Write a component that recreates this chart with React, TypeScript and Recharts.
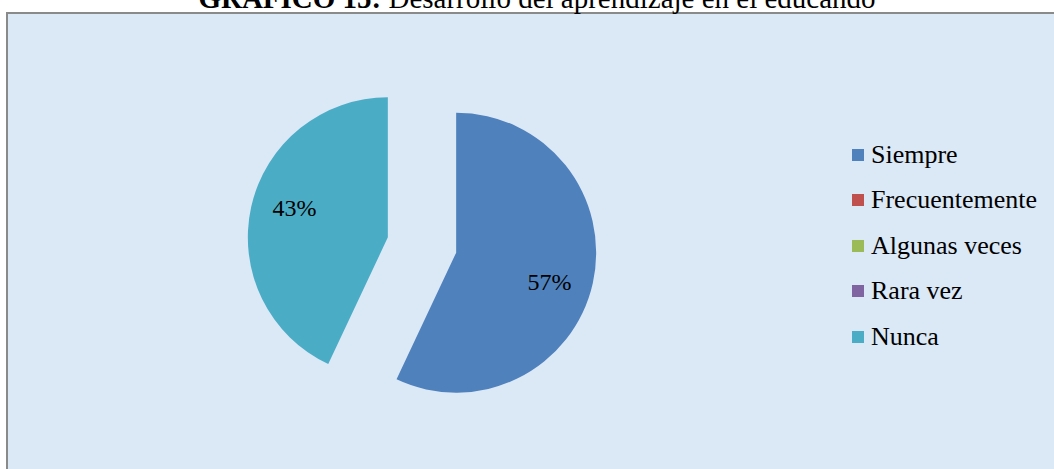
import { PieChart, Pie, Cell, Legend } from 'recharts';

const categories = ['Siempre', 'Frecuentemente', 'Algunas veces', 'Rara vez', 'Nunca'];
const values = [57, 0, 0, 0, 43];
const colors = ['#4f81bd', '#c0504d', '#9bbb59', '#8064a2', '#4bacc6'];

const data = categories.map((name, i) => ({ name, value: values[i] }));
const total = values.reduce((a, b) => a + b, 0);

const SERIF = '"Liberation Serif", Tinos, "Times New Roman", "DejaVu Serif", serif';
const CX = 422;
const CY = 245;
const R = 140;
const EXPLODE = 35;
const RAD = Math.PI / 180;

// mid angle (recharts degrees) of each slice, clockwise from 12 o'clock
const midAngles = values.map((v, i) => {
    const before = values.slice(0, i).reduce((a, b) => a + b, 0);
    return 90 - (360 * (before + v / 2)) / total;
});

function LegendContent() {
    return (
        <div style={{ fontFamily: SERIF, fontSize: 26, color: '#000' }}>
            {categories.map((c, i) => (
                <div key={c} style={{ display: 'flex', alignItems: 'center', height: 45.5 }}>
                    <span style={{ width: 12, height: 12, background: colors[i], marginRight: 7, display: 'inline-block' }} />
                    <span>{c}</span>
                </div>
            ))}
        </div>
    );
}

export default function App() {
    return (
        <div style={{ position: 'absolute', left: 0, top: 0, width: 1054, height: 469, overflow: 'hidden', background: '#fff' }}>
            <div
                style={{
                    position: 'absolute',
                    left: 6,
                    top: 12,
                    width: 1060,
                    height: 470,
                    background: '#dbe8f6',
                    borderLeft: '2px solid #8a8a8a',
                    borderTop: '2px solid #8a8a8a',
                    boxSizing: 'border-box',
                }}
            />
            <svg width={1054} height={30} style={{ position: 'absolute', left: 0, top: 0 }}>
                <text x={537} y={8} textAnchor="middle" fontFamily={SERIF} fontSize={29} fill="#000">
                    <tspan fontWeight="bold">GRÁFICO 15:</tspan>
                    <tspan> Desarrollo del aprendizaje en el educando</tspan>
                </text>
            </svg>
            <div style={{ position: 'absolute', left: 0, top: 0 }}>
                <PieChart width={1054} height={469} margin={{ top: 0, right: 0, bottom: 0, left: 0 }}>
                    {values.map((v, j) =>
                        v > 0 ? (
                            <Pie
                                key={categories[j]}
                                data={data}
                                dataKey="value"
                                nameKey="name"
                                cx={CX + EXPLODE * Math.cos(midAngles[j] * RAD)}
                                cy={CY - EXPLODE * Math.sin(midAngles[j] * RAD)}
                                outerRadius={R}
                                startAngle={90}
                                endAngle={-270}
                                stroke="none"
                                labelLine={false}
                                isAnimationActive={false}
                                label={(p: any) => {
                                    if (p.index !== j) return null;
                                    const x = p.cx + R * 0.7 * Math.cos((p.midAngle - 5) * RAD);
                                    const y = p.cy - R * 0.7 * Math.sin((p.midAngle - 5) * RAD);
                                    return (
                                        <text
                                            x={x}
                                            y={y}
                                            textAnchor="middle"
                                            dominantBaseline="central"
                                            style={{ fontFamily: SERIF, fontSize: 24 }}
                                            fill="#000"
                                        >
                                            {`${Math.round((p.value / total) * 100)}%`}
                                        </text>
                                    );
                                }}
                            >
                                {data.map((d, i) => (
                                    <Cell key={d.name} fill={i === j ? colors[i] : 'none'} />
                                ))}
                            </Pie>
                        ) : null
                    )}
                    <Legend
                        layout="vertical"
                        content={<LegendContent />}
                        wrapperStyle={{ left: 852, top: 132, width: 200 }}
                    />
                </PieChart>
            </div>
        </div>
    );
}
